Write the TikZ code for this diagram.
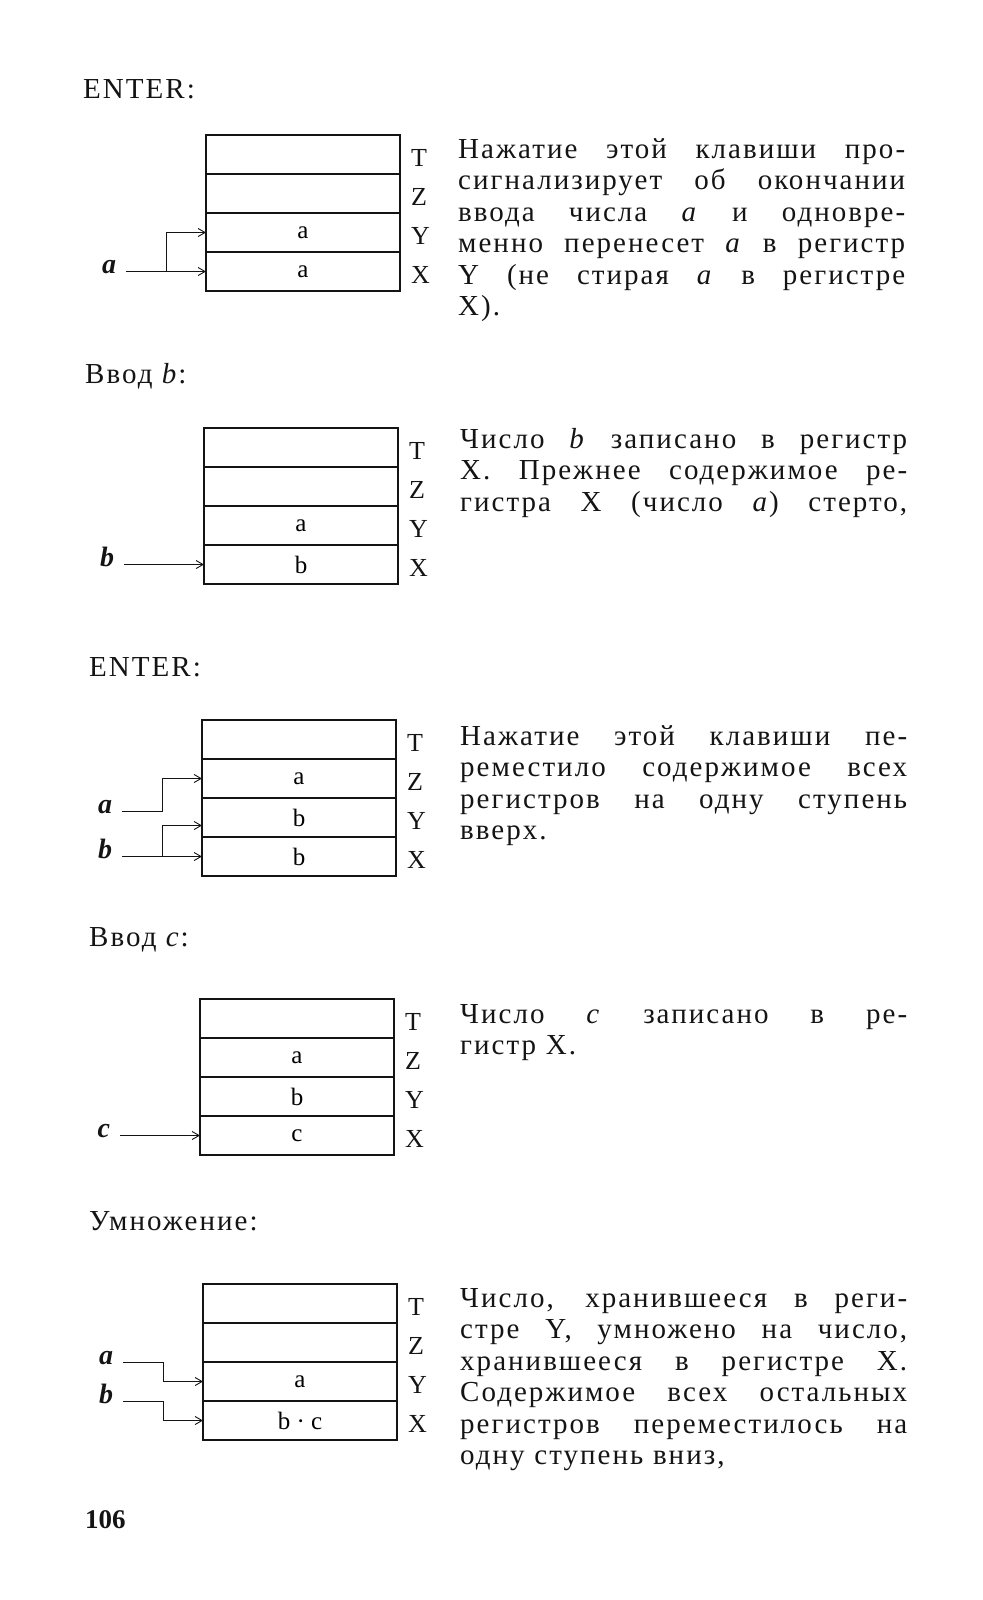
\documentclass[tikz,border=0pt]{standalone}
\usepackage{fontspec}
\setmainfont{Liberation Serif}
\newfontfamily\bodyfont[LetterSpace=7]{Liberation Serif}
\usetikzlibrary{arrows.meta, calc, positioning}
\definecolor{ink}{HTML}{141414}
% one justified line of a paragraph
\newcommand{\jline}[1]{\hbox to 447pt{\spaceskip=0.3em plus 1fil\relax#1}}

\begin{document}
\begin{tikzpicture}[
  x=1pt, y=-1pt,
  feed/.style={-{Straight Barb[length=7pt, width=8pt]}, ink, line width=0.9pt},
  cell/.style={draw=ink, line width=1.4pt, minimum width=194pt,
    minimum height=39pt, inner sep=0pt, outer sep=0pt,
    font=\fontsize{25}{25}\selectfont},
  reg/.style={ink, anchor=west, inner sep=0pt, font=\fontsize{26}{26}\selectfont},
  inlab/.style={ink, inner sep=0pt, outer xsep=10pt, anchor=mid east,
    font=\fontsize{28}{28}\selectfont\bfseries\itshape},
  heading/.style={ink, anchor=base west, inner sep=0pt,
    font=\bodyfont\fontsize{29}{29}\selectfont},
  para/.style={ink, anchor=base west, inner sep=0pt, text width=447pt,
    font=\bodyfont\fontsize{29}{31.5}\selectfont},
  pagenum/.style={ink, anchor=base west, inner sep=0pt,
    font=\bfseries\fontsize{27}{27}\selectfont},
]
\useasboundingbox (0,0) rectangle (982,1600);

% ══════════════════════════════════════════════════════
% ENTER (first)
% ══════════════════════════════════════════════════════
\node[heading] (h1) at (83,99) {ENTER:};
\foreach \nm/\val [count=\i from 0] in {T/{},Z/{},Y/a,X/a}{
  \node[cell] (s1\nm) at (303, 154.5+39*\i) {\val};
  \node[reg] (r1\nm) at ([xshift=11pt, yshift=-3pt]s1\nm.east) {\nm};
}
\node[inlab] (la1) at ([xshift=-80pt]s1X.west) {a};
\draw[feed] (la1.mid east) -- (s1X.west);
\draw[feed] ([xshift=-40pt]s1X.west) |- (s1Y.west);

\node[para] (t1) at (458,158) {%
  \jline{Нажатие этой клавиши про-}
  \jline{сигнализирует об окончании}
  \jline{ввода числа \textit{a} и одновре-}
  \jline{менно перенесет \textit{a} в регистр}
  \jline{Y (не стирая \textit{a} в регистре}
  \hbox{X).}};

% ══════════════════════════════════════════════════════
% Input b
% ══════════════════════════════════════════════════════
\node[heading] (h2) at (85,383) {Ввод \textit{b}:};
\foreach \nm/\val [count=\i from 0] in {T/{},Z/{},Y/a,X/b}{
  \node[cell] (s2\nm) at (301, 447.5+39*\i) {\val};
  \node[reg] (r2\nm) at ([xshift=11pt, yshift=-3pt]s2\nm.east) {\nm};
}
\node[inlab] (lb2) at ([xshift=-80pt]s2X.west) {b};
\draw[feed] (lb2.mid east) -- (s2X.west);

\node[para] (t2) at (460,448) {%
  \jline{Число \textit{b} записано в регистр}
  \jline{X. Прежнее содержимое ре-}
  \jline{гистра X (число \textit{a}) стерто,}};

% ══════════════════════════════════════════════════════
% ENTER (second)
% ══════════════════════════════════════════════════════
\node[heading] (h3) at (89,676) {ENTER:};
\foreach \nm/\val [count=\i from 0] in {T/{},Z/a,Y/b,X/b}{
  \node[cell] (s3\nm) at (299, 739.5+39*\i) {\val};
  \node[reg] (r3\nm) at ([xshift=11pt, yshift=-3pt]s3\nm.east) {\nm};
}
\node[inlab] (la3) at ([xshift=-80pt, yshift=6pt]s3Y.west) {a};
\draw[feed] (la3.mid east) -| ([xshift=-40pt]s3Z.west) -- (s3Z.west);
\node[inlab] (lb3) at ([xshift=-80pt]s3X.west) {b};
\draw[feed] (lb3.mid east) -- (s3X.west);
\draw[feed] ([xshift=-40pt]s3X.west) |- ([yshift=-8pt]s3Y.west);

\node[para] (t3) at (460,745) {%
  \jline{Нажатие этой клавиши пе-}
  \jline{реместило содержимое всех}
  \jline{регистров на одну ступень}
  \hbox{вверх.}};

% ══════════════════════════════════════════════════════
% Input c
% ══════════════════════════════════════════════════════
\node[heading] (h4) at (89,946) {Ввод \textit{c}:};
\foreach \nm/\val [count=\i from 0] in {T/{},Z/a,Y/b,X/c}{
  \node[cell] (s4\nm) at (297, 1018.5+39*\i) {\val};
  \node[reg] (r4\nm) at ([xshift=11pt, yshift=-3pt]s4\nm.east) {\nm};
}
\node[inlab] (lc4) at ([xshift=-80pt]s4X.west) {c};
\draw[feed] (lc4.mid east) -- (s4X.west);

\node[para] (t4) at (460,1023) {%
  \jline{Число \textit{c} записано в ре-}
  \hbox{гистр X.}};

% ══════════════════════════════════════════════════════
% Multiplication
% ══════════════════════════════════════════════════════
\node[heading] (h5) at (89,1230) {Умножение:};
\foreach \nm/\val [count=\i from 0] in {T/{},Z/{},Y/a,X/{b · c}}{
  \node[cell] (s5\nm) at (300, 1303.5+39*\i) {\val};
  \node[reg] (r5\nm) at ([xshift=11pt, yshift=-3pt]s5\nm.east) {\nm};
}
\node[inlab] (la5) at ([xshift=-80pt]s5Y.north west) {a};
\draw[feed] (la5.mid east) -| ([xshift=-40pt]s5Y.west) -- (s5Y.west);
\node[inlab] (lb5) at ([xshift=-80pt]s5X.north west) {b};
\draw[feed] (lb5.mid east) -| ([xshift=-40pt]s5X.west) -- (s5X.west);

\node[para] (t5) at (460,1307) {%
  \jline{Число, хранившееся в реги-}
  \jline{стре Y, умножено на число,}
  \jline{хранившееся в регистре X.}
  \jline{Содержимое всех остальных}
  \jline{регистров переместилось на}
  \hbox{одну ступень вниз,}};

% page number
\node[pagenum] (pg) at (85,1528) {106};

\end{tikzpicture}
\end{document}
